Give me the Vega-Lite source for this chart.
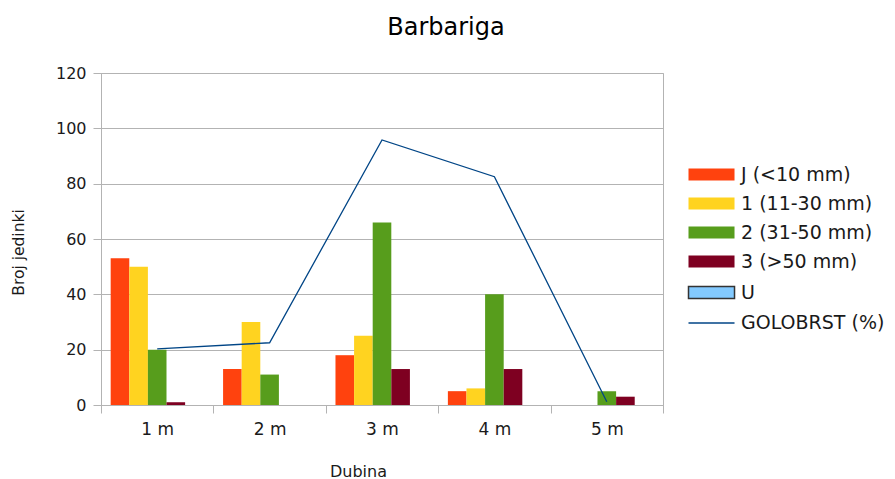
{
  "$schema": "https://vega.github.io/schema/vega-lite/v6.json",
  "width": 562,
  "height": 332,
  "autosize": {"type": "none"},
  "padding": {"left": 101, "top": 73, "right": 232, "bottom": 74},
  "background": "white",
  "title": {"text": "Barbariga", "fontSize": 24, "font": "DejaVu Sans", "fontWeight": "normal", "color": "#000000", "anchor": "middle", "dx": 64, "offset": 25},
  "datasets": {
    "bars": [
      {"dubina": "1 m", "kat": "J (<10 mm)", "n": 53},
      {"dubina": "1 m", "kat": "1 (11-30 mm)", "n": 50},
      {"dubina": "1 m", "kat": "2 (31-50 mm)", "n": 20},
      {"dubina": "1 m", "kat": "3 (>50 mm)", "n": 1},
      {"dubina": "2 m", "kat": "J (<10 mm)", "n": 13},
      {"dubina": "2 m", "kat": "1 (11-30 mm)", "n": 30},
      {"dubina": "2 m", "kat": "2 (31-50 mm)", "n": 11},
      {"dubina": "2 m", "kat": "3 (>50 mm)", "n": 0},
      {"dubina": "3 m", "kat": "J (<10 mm)", "n": 18},
      {"dubina": "3 m", "kat": "1 (11-30 mm)", "n": 25},
      {"dubina": "3 m", "kat": "2 (31-50 mm)", "n": 66},
      {"dubina": "3 m", "kat": "3 (>50 mm)", "n": 13},
      {"dubina": "4 m", "kat": "J (<10 mm)", "n": 5},
      {"dubina": "4 m", "kat": "1 (11-30 mm)", "n": 6},
      {"dubina": "4 m", "kat": "2 (31-50 mm)", "n": 40},
      {"dubina": "4 m", "kat": "3 (>50 mm)", "n": 13},
      {"dubina": "5 m", "kat": "J (<10 mm)", "n": 0},
      {"dubina": "5 m", "kat": "1 (11-30 mm)", "n": 0},
      {"dubina": "5 m", "kat": "2 (31-50 mm)", "n": 5},
      {"dubina": "5 m", "kat": "3 (>50 mm)", "n": 3}
    ],
    "u": [
      {"dubina": "1 m", "kat": "U", "n": 0},
      {"dubina": "2 m", "kat": "U", "n": 0},
      {"dubina": "3 m", "kat": "U", "n": 0},
      {"dubina": "4 m", "kat": "U", "n": 0},
      {"dubina": "5 m", "kat": "U", "n": 0}
    ],
    "line": [
      {"dubina": "1 m", "golobrst": 20.3},
      {"dubina": "2 m", "golobrst": 22.5},
      {"dubina": "3 m", "golobrst": 95.8},
      {"dubina": "4 m", "golobrst": 82.5},
      {"dubina": "5 m", "golobrst": 1.2}
    ]
  },
  "config": {
    "font": "DejaVu Sans",
    "view": {"stroke": "#b3b3b3", "strokeWidth": 1},
    "axis": {
      "domainColor": "#b3b3b3",
      "tickColor": "#b3b3b3",
      "gridColor": "#b3b3b3",
      "labelColor": "#1a1a1a",
      "titleColor": "#1a1a1a",
      "labelFont": "DejaVu Sans",
      "titleFont": "DejaVu Sans",
      "titleFontWeight": "normal"
    },
    "legend": {
      "labelFont": "DejaVu Sans", "labelFontSize": 19, "labelColor": "#1a1a1a",
      "symbolSize": 144, "labelOffset": 37, "rowPadding": 9, "padding": 0
    }
  },
  "layer": [
    {
      "data": {"name": "bars"},
      "mark": {"type": "bar"},
      "encoding": {
        "x": {
          "field": "dubina", "type": "nominal",
          "sort": ["1 m", "2 m", "3 m", "4 m", "5 m"],
          "scale": {"paddingInner": 0, "paddingOuter": 0},
          "title": "Dubina",
          "axis": {
            "labelAngle": 0, "tickBand": "extent", "tickSize": 8,
            "labelFontSize": 17, "labelPadding": 8, "titleFontSize": 16,
            "titleX": 257, "titleY": 58, "titleAlign": "center", "grid": false
          }
        },
        "xOffset": {
          "field": "kat", "type": "nominal",
          "scale": {"domain": ["J (<10 mm)", "1 (11-30 mm)", "2 (31-50 mm)", "3 (>50 mm)", "U"], "paddingOuter": 0.52, "paddingInner": 0}
        },
        "y": {
          "field": "n", "type": "quantitative",
          "scale": {"domain": [0, 120]},
          "title": "Broj jedinki",
          "axis": {
            "values": [0, 20, 40, 60, 80, 100, 120], "tickSize": 8, "labelFontSize": 16, "labelPadding": 7,
            "titleFontSize": 15.5, "titleX": -83, "titleY": 179, "titleAlign": "center", "titleBaseline": "middle", "grid": true
          }
        },
        "color": {
          "field": "kat", "type": "nominal",
          "scale": {
            "domain": ["J (<10 mm)", "1 (11-30 mm)", "2 (31-50 mm)", "3 (>50 mm)"],
            "range": ["#ff420e", "#ffd320", "#579d1c", "#7e0021"]
          },
          "legend": {
            "orient": "none", "legendX": 584, "legendY": 92, "title": null,
            "symbolType": "M-1,-1H6.67V1H-1Z", "symbolStrokeWidth": 0, "symbolOpacity": 1
          }
        }
      }
    },
    {
      "data": {"name": "u"},
      "mark": {"type": "bar"},
      "encoding": {
        "x": {"field": "dubina", "type": "nominal", "sort": ["1 m", "2 m", "3 m", "4 m", "5 m"]},
        "xOffset": {"field": "kat", "type": "nominal"},
        "y": {"field": "n", "type": "quantitative"},
        "fill": {
          "datum": "U",
          "scale": {"range": ["#83caff"]},
          "legend": {
            "orient": "none", "legendX": 584, "legendY": 210, "title": null,
            "symbolType": "M-1,-1H6.67V1H-1Z", "symbolStrokeColor": "#333333", "symbolStrokeWidth": 1.5, "symbolOpacity": 1
          }
        }
      }
    },
    {
      "data": {"name": "line"},
      "mark": {"type": "line", "strokeWidth": 1.3},
      "encoding": {
        "x": {"field": "dubina", "type": "nominal", "sort": ["1 m", "2 m", "3 m", "4 m", "5 m"]},
        "y": {"field": "golobrst", "type": "quantitative"},
        "stroke": {
          "datum": "GOLOBRST (%)",
          "scale": {"range": ["#004586"]},
          "legend": {
            "orient": "none", "legendX": 584, "legendY": 240.5, "title": null,
            "symbolType": "M-1,0H6.67", "symbolStrokeWidth": 1.3, "symbolFillColor": "transparent"
          }
        }
      }
    }
  ]
}
